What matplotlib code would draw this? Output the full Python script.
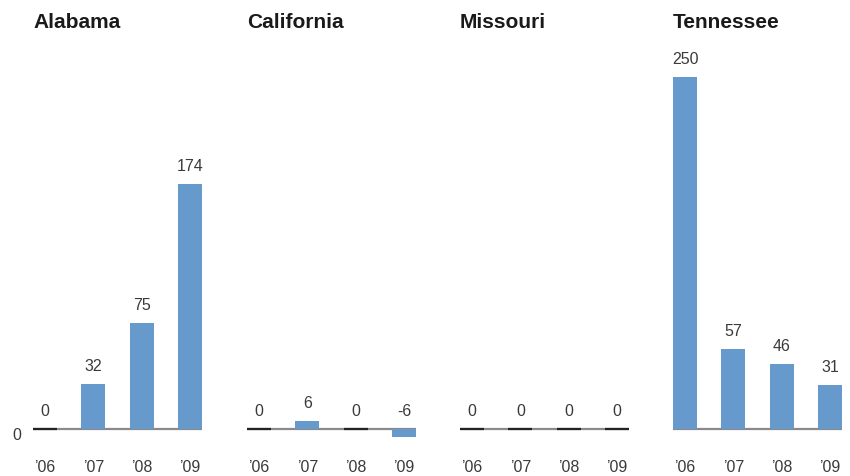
import matplotlib
matplotlib.use("Agg")
import matplotlib.pyplot as plt

states = ["Alabama", "California", "Missouri", "Tennessee"]
years = ["\u201906", "\u201907", "\u201908", "\u201909"]
values = {
    "Alabama": [0, 32, 75, 174],
    "California": [0, 6, 0, -6],
    "Missouri": [0, 0, 0, 0],
    "Tennessee": [250, 57, 46, 31],
}

plt.rcParams["font.family"] = ["Liberation Sans", "DejaVu Sans"]

W, H = 850, 477
fig = plt.figure(figsize=(W / 100, H / 100), dpi=100)

bar_color = "#6699cc"
px_per_unit = 1.408
base_y = 430
ymin, ymax = -20, 270
lefts = [33, 247, 460, 673]
ax_w = 169

ax_bottom_px = base_y - ymin * px_per_unit
ax_h_px = (ymax - ymin) * px_per_unit

for i, st in enumerate(states):
    ax = fig.add_axes([lefts[i] / W, 1 - ax_bottom_px / H, ax_w / W, ax_h_px / H])
    vals = values[st]
    xs = list(range(len(vals)))
    ax.set_xlim(-0.25, 3.25)
    ax.set_ylim(ymin, ymax)
    ax.axhline(0, color="#8a8a8a", lw=1.6, zorder=1)
    ax.bar(xs, vals, width=0.5, color=bar_color, zorder=2)
    zx = [x for x, v in zip(xs, vals) if v == 0]
    if zx:
        ax.hlines([0] * len(zx), [x - 0.25 for x in zx], [x + 0.25 for x in zx],
                  color="#222222", lw=1.6, zorder=3)
    for x, v, yl in zip(xs, vals, years):
        ax.annotate(str(v), (x, max(v, 0)), xytext=(0, 11), textcoords="offset pixels",
                    ha="center", va="bottom", fontsize=11.5, color="#3a3a3a")
        ax.annotate(yl, (x, 0), xytext=(0, -38), textcoords="offset pixels",
                    ha="center", va="center", fontsize=11.5, color="#3a3a3a")
    ax.axis("off")
    fig.text((lefts[i]) / W, 1 - 22 / H, st, fontsize=15, fontweight="bold",
             color="#1a1a1a", ha="left", va="center")

fig.text(17 / W, 1 - 436 / H, "0", fontsize=11.5, color="#3a3a3a", ha="center", va="center")

fig.savefig("out.png", dpi=100)
